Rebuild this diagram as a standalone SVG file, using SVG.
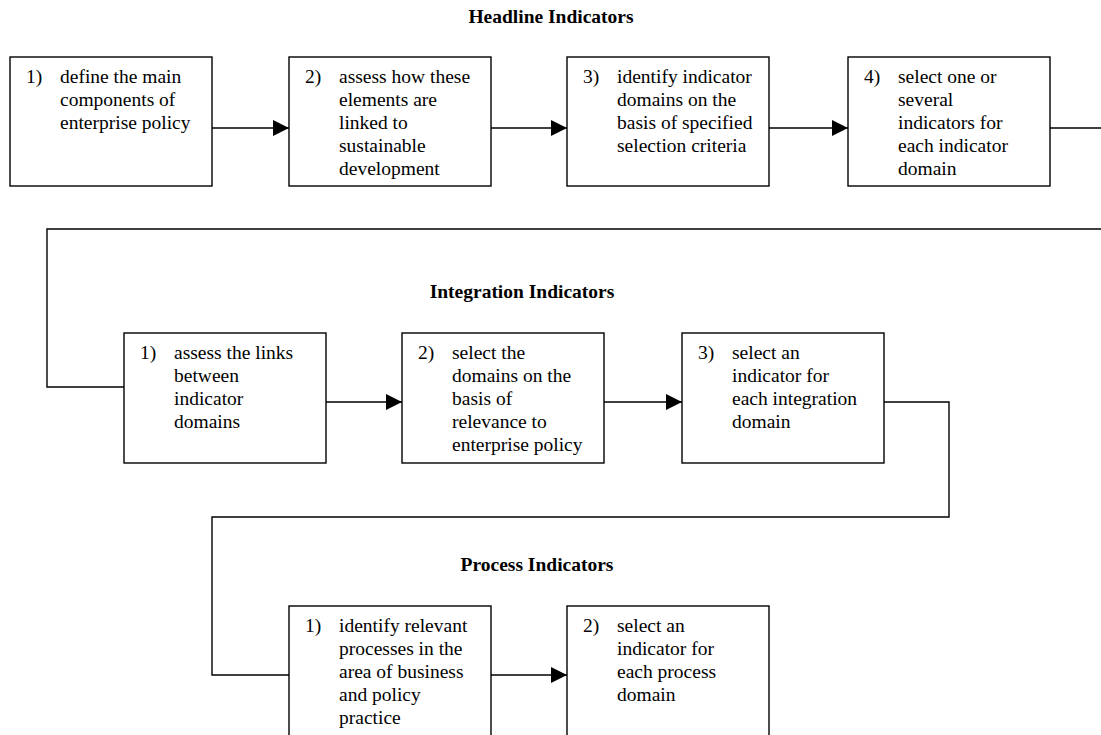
<svg xmlns="http://www.w3.org/2000/svg" width="1101" height="735" viewBox="0 0 1101 735">
<defs>
<marker id="ah" markerUnits="userSpaceOnUse" markerWidth="16" markerHeight="16" refX="16" refY="8" orient="auto">
<path d="M0,0 L16,8 L0,16 Z" fill="#000"/>
</marker>
<style>
.box{fill:#fff;stroke:#000;stroke-width:1.4}
.t{font-family:"Liberation Serif","Times New Roman",serif;font-size:19.5px;fill:#000}
.h{font-family:"Liberation Serif","Times New Roman",serif;font-size:19.5px;font-weight:bold;fill:#000;text-anchor:middle}
.c{fill:none;stroke:#000;stroke-width:1.4}
</style>
</defs>
<rect width="1101" height="735" fill="#fff"/>
<text class="h" x="551" y="23">Headline Indicators</text>
<text class="h" x="522" y="298">Integration Indicators</text>
<text class="h" x="537" y="571">Process Indicators</text>

<g id="connectors">
<path class="c" d="M212,128 H289" marker-end="url(#ah)"/>
<path class="c" d="M491,128 H567" marker-end="url(#ah)"/>
<path class="c" d="M769,128 H848" marker-end="url(#ah)"/>
<path class="c" d="M1050,128 H1101"/>
<path class="c" d="M1101,229 H47 V387 H124"/>
<path class="c" d="M326,402 H402" marker-end="url(#ah)"/>
<path class="c" d="M604,402 H682" marker-end="url(#ah)"/>
<path class="c" d="M884,402 H949 V517 H212 V675 H289"/>
<path class="c" d="M491,675 H567" marker-end="url(#ah)"/>
</g>

<g id="h1">
<rect class="box" x="10" y="57" width="202" height="129"/>
<text class="t" x="26" y="83">1)</text>
<text class="t"><tspan x="60" y="83">define the main</tspan><tspan x="60" y="106">components of</tspan><tspan x="60" y="129">enterprise policy</tspan></text>
</g>
<g id="h2">
<rect class="box" x="289" y="57" width="202" height="129"/>
<text class="t" x="305" y="83">2)</text>
<text class="t"><tspan x="339" y="83">assess how these</tspan><tspan x="339" y="106">elements are</tspan><tspan x="339" y="129">linked to</tspan><tspan x="339" y="152">sustainable</tspan><tspan x="339" y="175">development</tspan></text>
</g>
<g id="h3">
<rect class="box" x="567" y="57" width="202" height="129"/>
<text class="t" x="583" y="83">3)</text>
<text class="t"><tspan x="617" y="83">identify indicator</tspan><tspan x="617" y="106">domains on the</tspan><tspan x="617" y="129">basis of specified</tspan><tspan x="617" y="152">selection criteria</tspan></text>
</g>
<g id="h4">
<rect class="box" x="848" y="57" width="202" height="129"/>
<text class="t" x="864" y="83">4)</text>
<text class="t"><tspan x="898" y="83">select one or</tspan><tspan x="898" y="106">several</tspan><tspan x="898" y="129">indicators for</tspan><tspan x="898" y="152">each indicator</tspan><tspan x="898" y="175">domain</tspan></text>
</g>

<g id="i1">
<rect class="box" x="124" y="333" width="202" height="130"/>
<text class="t" x="140" y="359">1)</text>
<text class="t"><tspan x="174" y="359">assess the links</tspan><tspan x="174" y="382">between</tspan><tspan x="174" y="405">indicator</tspan><tspan x="174" y="428">domains</tspan></text>
</g>
<g id="i2">
<rect class="box" x="402" y="333" width="202" height="130"/>
<text class="t" x="418" y="359">2)</text>
<text class="t"><tspan x="452" y="359">select the</tspan><tspan x="452" y="382">domains on the</tspan><tspan x="452" y="405">basis of</tspan><tspan x="452" y="428">relevance to</tspan><tspan x="452" y="451">enterprise policy</tspan></text>
</g>
<g id="i3">
<rect class="box" x="682" y="333" width="202" height="130"/>
<text class="t" x="698" y="359">3)</text>
<text class="t"><tspan x="732" y="359">select an</tspan><tspan x="732" y="382">indicator for</tspan><tspan x="732" y="405">each integration</tspan><tspan x="732" y="428">domain</tspan></text>
</g>

<g id="p1">
<rect class="box" x="289" y="606" width="202" height="140"/>
<text class="t" x="305" y="632">1)</text>
<text class="t"><tspan x="339" y="632">identify relevant</tspan><tspan x="339" y="655">processes in the</tspan><tspan x="339" y="678">area of business</tspan><tspan x="339" y="701">and policy</tspan><tspan x="339" y="724">practice</tspan></text>
</g>
<g id="p2">
<rect class="box" x="567" y="606" width="202" height="140"/>
<text class="t" x="583" y="632">2)</text>
<text class="t"><tspan x="617" y="632">select an</tspan><tspan x="617" y="655">indicator for</tspan><tspan x="617" y="678">each process</tspan><tspan x="617" y="701">domain</tspan></text>
</g>
</svg>
